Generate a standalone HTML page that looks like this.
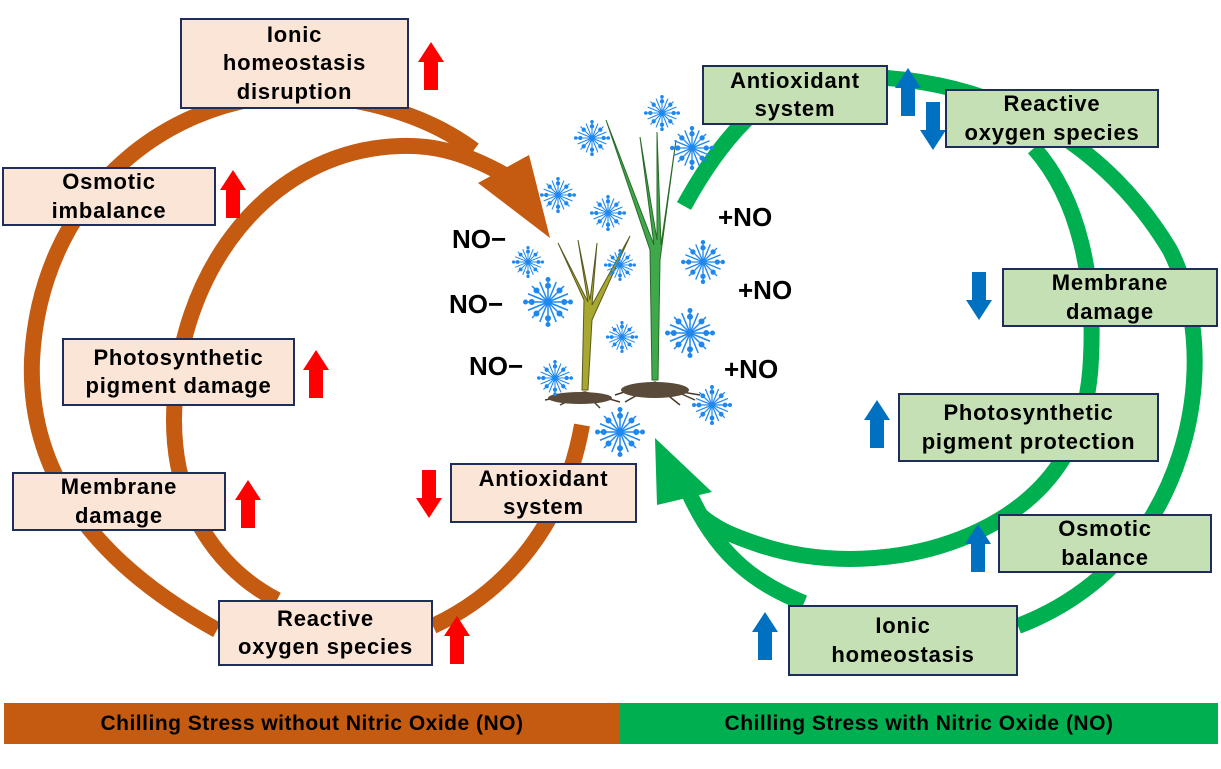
<!DOCTYPE html>
<html><head><meta charset="utf-8"><style>
body{margin:0;width:1221px;height:769px;background:#fff;position:relative;overflow:hidden;font-family:"Liberation Sans",Arial,sans-serif;}
.b{position:absolute;box-sizing:border-box;border:2px solid #1F2D5A;display:flex;align-items:center;justify-content:center;text-align:center;font-weight:bold;font-size:22px;letter-spacing:0.8px;line-height:28.5px;color:#000;}
.l{background:#FBE5D6}.r{background:#C5E0B4}
.t{position:absolute;font-weight:bold;font-size:26px;color:#000;}
.ban{position:absolute;top:703px;height:41px;display:flex;align-items:center;justify-content:center;font-weight:bold;font-size:21px;letter-spacing:0.5px;color:#000;}
svg{position:absolute;left:0;top:0}
</style></head><body>
<svg width="1221" height="769" viewBox="0 0 1221 769">
<defs>
<symbol id="sf" viewBox="-10 -10 20 20">
<g stroke="#1E88F0" stroke-width="0.6" fill="#1E88F0">
<line x1="-9" y1="0" x2="9" y2="0"/><line x1="0" y1="-9" x2="0" y2="9"/>
<line x1="-6.4" y1="-6.4" x2="6.4" y2="6.4"/><line x1="-6.4" y1="6.4" x2="6.4" y2="-6.4"/>
<line x1="-8" y1="-3.3" x2="8" y2="3.3"/><line x1="-8" y1="3.3" x2="8" y2="-3.3"/>
<line x1="-3.3" y1="-8" x2="3.3" y2="8"/><line x1="3.3" y1="-8" x2="-3.3" y2="8"/>
<circle cx="6.5" cy="0" r="0.9"/><circle cx="-6.5" cy="0" r="0.9"/><circle cx="0" cy="6.5" r="0.9"/><circle cx="0" cy="-6.5" r="0.9"/>
<circle cx="4.6" cy="4.6" r="0.9"/><circle cx="-4.6" cy="4.6" r="0.9"/><circle cx="4.6" cy="-4.6" r="0.9"/><circle cx="-4.6" cy="-4.6" r="0.9"/>
<circle cx="9" cy="0" r="0.7"/><circle cx="-9" cy="0" r="0.7"/><circle cx="0" cy="9" r="0.7"/><circle cx="0" cy="-9" r="0.7"/>
<circle cx="0" cy="0" r="1"/>
</g></symbol>
</defs>
<g fill="none" stroke="#C55A11" stroke-width="16">
<path d="M474,150 C420,110 350,95 290,95 C160,100 40,200 32,360 C28,470 90,560 217,630"/>
<path d="M505,175 C460,150 430,145 400,146 C270,150 175,270 174,420 C174,510 220,570 277,600"/>
<path d="M433,626 C510,590 565,520 582,425"/>
</g>
<polygon points="478,183 529,155 550,238" fill="#C55A11"/>
<g fill="none" stroke="#00B050" stroke-width="16">
<path d="M684,206 C720,140 770,80 830,77 C1000,70 1110,150 1170,250 C1210,330 1200,440 1150,520 C1110,580 1060,610 1018,626"/>
<path d="M804,603 C760,585 720,560 690,495"/>
<path d="M1034,148 C1080,200 1095,280 1091,358 C1088,440 1050,500 970,535 C900,565 820,565 760,545 C730,535 715,528 700,515"/>
</g>
<polygon points="655,438 657,505 712,492" fill="#00B050"/>
<g>
<path d="M582,390 L584,300 L558,243 L588,302 L578,240 L590,300 L597,243 L592,305 L630,236 L592,320 L588,390Z" fill="#A8A830" stroke="#5a5a20" stroke-width="1"/>
<path d="M652,380 L650,250 L606,120 L654,245 L640,137 L657,240 L657,132 L661,245 L676,140 L660,260 L658,380Z" fill="#3FA84A" stroke="#2a6b2a" stroke-width="1"/>
<g stroke="#4a3a2a" stroke-width="1.5" fill="none">
<path d="M545,400 L585,392 L620,402 M560,405 L585,393 L600,408 M570,398 L590,395"/>
<path d="M615,395 L655,382 L695,400 M625,402 L655,385 L680,405 M640,392 L670,390 L700,395"/>
</g>
<ellipse cx="580" cy="398" rx="32" ry="6" fill="#5a4a3a"/>
<ellipse cx="655" cy="390" rx="34" ry="8" fill="#5a4a3a"/>
</g>
<use href="#sf" x="574" y="120" width="36" height="36"/>
<use href="#sf" x="644" y="95" width="36" height="36"/>
<use href="#sf" x="670" y="126" width="44" height="44"/>
<use href="#sf" x="540" y="177" width="36" height="36"/>
<use href="#sf" x="590" y="195" width="36" height="36"/>
<use href="#sf" x="512" y="246" width="32" height="32"/>
<use href="#sf" x="523" y="277" width="50" height="50"/>
<use href="#sf" x="604" y="249" width="32" height="32"/>
<use href="#sf" x="681" y="240" width="44" height="44"/>
<use href="#sf" x="606" y="321" width="32" height="32"/>
<use href="#sf" x="665" y="308" width="50" height="50"/>
<use href="#sf" x="537" y="360" width="36" height="36"/>
<use href="#sf" x="692" y="385" width="40" height="40"/>
<use href="#sf" x="595" y="407" width="50" height="50"/>
<g fill="#FF0000">
<path d="M424,90 V62 H418 L431,42 L444,62 H438 V90Z"/>
<path d="M226,218 V190 H220 L233,170 L246,190 H240 V218Z"/>
<path d="M309,398 V370 H303 L316,350 L329,370 H323 V398Z"/>
<path d="M241,528 V500 H235 L248,480 L261,500 H255 V528Z"/>
<path d="M422,470 V498 H416 L429,518 L442,498 H436 V470Z"/>
<path d="M450,664 V636 H444 L457,616 L470,636 H464 V664Z"/>
</g>
<g fill="#0070C0">
<path d="M901,116 V88 H895 L908,68 L921,88 H915 V116Z"/>
<path d="M926,102 V130 H920 L933,150 L946,130 H940 V102Z"/>
<path d="M972,272 V300 H966 L979,320 L992,300 H986 V272Z"/>
<path d="M870,448 V420 H864 L877,400 L890,420 H884 V448Z"/>
<path d="M971,572 V544 H965 L978,524 L991,544 H985 V572Z"/>
<path d="M758,660 V632 H752 L765,612 L778,632 H772 V660Z"/>
</g>
</svg>
<div class="b l" style="left:180px;top:18px;width:229px;height:91px">Ionic<br>homeostasis<br>disruption</div>
<div class="b l" style="left:2px;top:167px;width:214px;height:59px">Osmotic<br>imbalance</div>
<div class="b l" style="left:62px;top:338px;width:233px;height:68px">Photosynthetic<br>pigment damage</div>
<div class="b l" style="left:12px;top:472px;width:214px;height:59px">Membrane<br>damage</div>
<div class="b l" style="left:450px;top:463px;width:187px;height:60px">Antioxidant<br>system</div>
<div class="b l" style="left:218px;top:600px;width:215px;height:66px">Reactive<br>oxygen species</div>
<div class="b r" style="left:702px;top:65px;width:186px;height:60px">Antioxidant<br>system</div>
<div class="b r" style="left:945px;top:89px;width:214px;height:59px">Reactive<br>oxygen species</div>
<div class="b r" style="left:1002px;top:268px;width:216px;height:59px">Membrane<br>damage</div>
<div class="b r" style="left:898px;top:393px;width:261px;height:69px">Photosynthetic<br>pigment protection</div>
<div class="b r" style="left:998px;top:514px;width:214px;height:59px">Osmotic<br>balance</div>
<div class="b r" style="left:788px;top:605px;width:230px;height:71px">Ionic<br>homeostasis</div>
<div class="t" style="left:452px;top:224px">NO−</div>
<div class="t" style="left:449px;top:289px">NO−</div>
<div class="t" style="left:469px;top:351px">NO−</div>
<div class="t" style="left:718px;top:202px">+NO</div>
<div class="t" style="left:738px;top:275px">+NO</div>
<div class="t" style="left:724px;top:354px">+NO</div>
<div class="ban" style="left:4px;width:616px;background:#C55A11">Chilling Stress without Nitric Oxide (NO)</div>
<div class="ban" style="left:620px;width:598px;background:#00B050">Chilling Stress with Nitric Oxide (NO)</div>
</body></html>
